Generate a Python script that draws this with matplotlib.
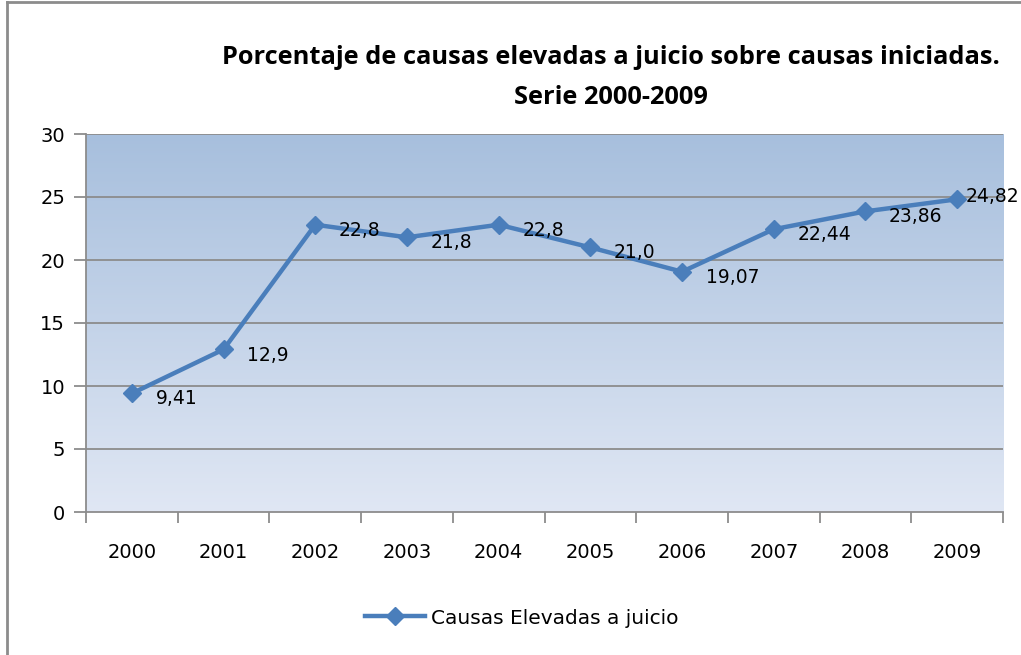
import matplotlib
matplotlib.use("Agg")
import matplotlib.pyplot as plt
import numpy as np
from matplotlib.lines import Line2D

years = ["2000", "2001", "2002", "2003", "2004", "2005", "2006", "2007", "2008", "2009"]
values = [9.41, 12.9, 22.8, 21.8, 22.8, 21.0, 19.07, 22.44, 23.86, 24.82]
labels = ["9,41", "12,9", "22,8", "21,8", "22,8", "21,0", "19,07", "22,44", "23,86", "24,82"]
yticks = [0, 5, 10, 15, 20, 25, 30]

line_col = "#4a7ebb"

fig = plt.figure(figsize=(10.21, 6.55), dpi=100)
ax = fig.add_axes([86 / 1021, 1 - 512 / 655, 917 / 1021, 378 / 655])

# gradient fill of the plot area
grad = np.linspace(0, 1, 256).reshape(-1, 1)
top = np.array([0xa7, 0xbf, 0xdd]) / 255
bot = np.array([0xe0, 0xe7, 0xf4]) / 255
img = top[None, None, :] * (1 - grad[:, :, None]) + bot[None, None, :] * grad[:, :, None]
ax.imshow(img, extent=[0, 1, 0, 1], transform=ax.transAxes, aspect="auto", zorder=0)

x = np.arange(len(years))
ax.set_xlim(-0.5, len(years) - 0.5)
ax.set_ylim(0, 30)
for yv in yticks[1:]:
    ax.axhline(yv, color="#8c8c8c", lw=1.3, zorder=1)

ax.plot(x, values, color=line_col, lw=3.2, marker="D", ms=9, zorder=3)
for i, (xi, v, t) in enumerate(zip(x, values, labels)):
    off = (6, 2) if i == len(values) - 1 else (17, -4)
    ax.annotate(t, (xi, v), xytext=off, textcoords="offset points",
                ha="left", va="center", fontsize=13.5, color="black", zorder=4,
                annotation_clip=False)

ax.set_yticks(yticks)
ax.set_yticklabels([str(t) for t in yticks], fontsize=14)
ax.set_xticks(x)
ax.set_xticklabels(years, fontsize=14)
ax.set_xticks(np.arange(-0.5, len(years)), minor=True)
ax.tick_params(axis="x", which="major", length=0, pad=22)
ax.tick_params(axis="x", which="minor", length=8, color="#8c8c8c", width=1.3)
ax.tick_params(axis="y", length=9, color="#8c8c8c", width=1.3, pad=6)
for s in ["top", "right"]:
    ax.spines[s].set_visible(False)
ax.spines["left"].set_color("#8c8c8c")
ax.spines["bottom"].set_color("#8c8c8c")
ax.spines["left"].set_linewidth(1.3)
ax.spines["bottom"].set_linewidth(1.3)

fig.text(611 / 1021, 1 - 58 / 655, "Porcentaje de causas elevadas a juicio sobre causas iniciadas.",
         ha="center", va="center", fontsize=18.3, fontweight="bold", family="Open Sans")
fig.text(611 / 1021, 1 - 97 / 655, "Serie 2000-2009",
         ha="center", va="center", fontsize=18.3, fontweight="bold", family="Open Sans")

handle = Line2D([], [], color=line_col, lw=3.2, marker="D", ms=9)
fig.legend([handle], ["Causas Elevadas a juicio"], loc="center", bbox_to_anchor=(522 / 1021, 1 - 618 / 655),
           frameon=False, fontsize=14.5, handlelength=3, handletextpad=0.3)

# outer frame
fig.add_artist(Line2D([7 / 1021, 7 / 1021], [0, 1 - 2 / 655], color="#8c8c8c", lw=2, transform=fig.transFigure))
fig.add_artist(Line2D([7 / 1021, 1], [1 - 2 / 655, 1 - 2 / 655], color="#8c8c8c", lw=2, transform=fig.transFigure))

fig.savefig("out.png", dpi=100)
